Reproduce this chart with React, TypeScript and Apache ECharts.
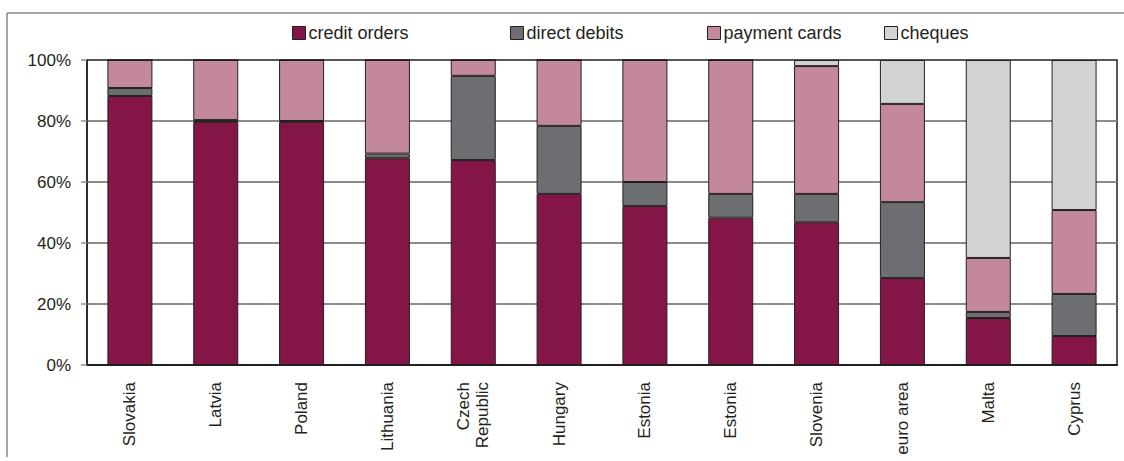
import React, { useEffect, useRef } from "react";
import * as echarts from "echarts";

const categories = [
  "Slovakia", "Latvia", "Poland", "Lithuania", "Czech\nRepublic", "Hungary",
  "Estonia", "Estonia", "Slovenia", "euro area", "Malta", "Cyprus",
];
const creditOrders = [88.2, 79.7, 79.7, 67.8, 67.2, 56.1, 52.1, 48.3, 46.8, 28.5, 15.4, 9.5];
const directDebits = [2.6, 0.6, 0.3, 1.5, 27.6, 22.3, 7.9, 7.8, 9.3, 24.9, 2.0, 13.8];
const paymentCards = [9.2, 19.7, 20.0, 30.7, 5.2, 21.6, 40.0, 43.9, 41.9, 32.2, 17.7, 27.5];
const cheques = [0, 0, 0, 0, 0, 0, 0, 0, 2.0, 14.4, 64.9, 49.2];
const yTicks = [0, 20, 40, 60, 80, 100];

const seriesDefs = [
  { name: "credit orders", data: creditOrders, color: "#841547" },
  { name: "direct debits", data: directDebits, color: "#6d6e71" },
  { name: "payment cards", data: paymentCards, color: "#c4889b" },
  { name: "cheques", data: cheques, color: "#d1d2d4" },
];
const legendLefts = [292, 510, 707, 884];

const FONT = "Liberation Sans, Arial, sans-serif";
const TEXT = "#231f20";

export default function App() {
  const ref = useRef<HTMLDivElement>(null);
  useEffect(() => {
    if (!ref.current) return;
    const chart = echarts.init(ref.current, null, { renderer: "svg" });
    chart.setOption({
      animation: false,
      backgroundColor: "#ffffff",
      textStyle: { fontFamily: FONT },
      legend: seriesDefs.map((s, i) => ({
        data: [s.name],
        left: legendLefts[i],
        top: 24,
        itemWidth: 13,
        itemHeight: 13,
        itemGap: 0,
        padding: 0,
        icon: "rect",
        textStyle: { fontSize: 18, color: TEXT, fontFamily: FONT, padding: [0, 0, 0, -2] },
        itemStyle: { borderColor: TEXT, borderWidth: 1 },
        selectedMode: false,
      })),
      grid: {
        left: 87,
        right: 7,
        top: 60,
        bottom: 96,
        show: true,
        borderColor: TEXT,
        borderWidth: 1.5,
        backgroundColor: "transparent",
      },
      xAxis: {
        type: "category",
        data: categories,
        axisTick: { show: false },
        axisLine: { show: true, lineStyle: { color: TEXT, width: 2 } },
        axisLabel: {
          rotate: 90,
          fontSize: 17,
          color: TEXT,
          fontFamily: FONT,
          margin: 17,
          lineHeight: 19,
          interval: 0,
        },
      },
      yAxis: {
        type: "value",
        min: 0,
        max: 100,
        interval: 20,
        axisLine: { show: true, lineStyle: { color: TEXT, width: 1.5 } },
        axisTick: { show: true, length: 6, lineStyle: { color: "#8c8c8c", width: 1.5 } },
        axisLabel: {
          formatter: (v: number) => (yTicks.includes(v) ? v + "%" : ""),
          fontSize: 17,
          color: TEXT,
          fontFamily: FONT,
          margin: 16,
        },
        splitLine: {
          show: true,
          showMinLine: false,
          showMaxLine: false,
          lineStyle: { color: "#8c8c8c", width: 2 },
        },
      },
      series: seriesDefs.map((s) => ({
        name: s.name,
        type: "bar",
        stack: "total",
        barWidth: 45,
        data: s.data,
        itemStyle: { color: s.color, borderColor: TEXT, borderWidth: 1 },
        emphasis: { disabled: true },
      })),
      graphic: [
        {
          type: "line",
          shape: { x1: 7, y1: 13, x2: 1124, y2: 13 },
          style: { stroke: "#8a8a8a", lineWidth: 1.5 },
          silent: true,
        },
        {
          type: "line",
          shape: { x1: 7, y1: 13, x2: 7, y2: 457 },
          style: { stroke: "#8a8a8a", lineWidth: 1.5 },
          silent: true,
        },
      ],
    });
    return () => chart.dispose();
  }, []);
  return (
    <div
      ref={ref}
      style={{ position: "absolute", left: 0, top: 0, width: 1124, height: 461 }}
    />
  );
}
